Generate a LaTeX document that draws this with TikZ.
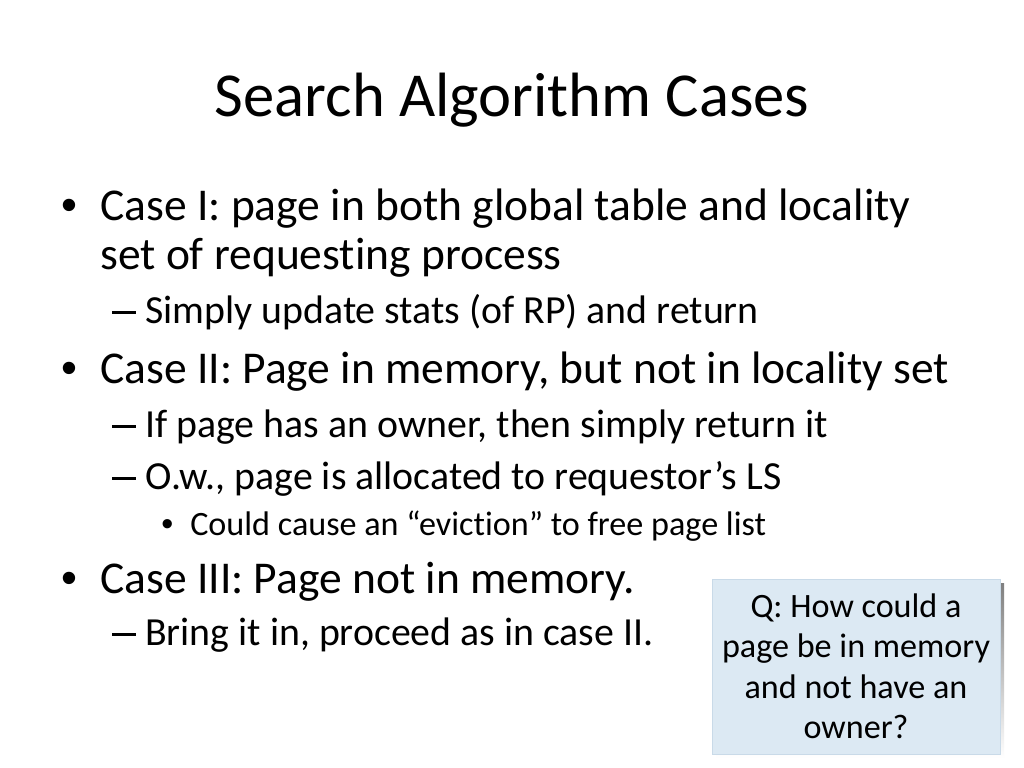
\documentclass[tikz,border=0pt]{standalone}
\usepackage{fontspec}
\setmainfont{Carlito}[Ligatures={NoCommon,NoRare,NoDiscretionary}]
\newfontfamily\arialf{Liberation Sans}
\definecolor{boxfill}{HTML}{DCE9F3}
\definecolor{boxline}{HTML}{C9DAE8}
\definecolor{shade}{HTML}{A0A0A0}
\newcommand{\mydash}{\rule[0.23em]{0.6em}{0.065em}}
\begin{document}
\begin{tikzpicture}[x=0.703125pt,y=-0.703125pt,
  title/.style={anchor=base,inner sep=0pt,font=\fontsize{44}{50}\selectfont},
  lone/.style={anchor=base west,inner sep=0pt,font=\fontsize{32}{38}\selectfont},
  ltwo/.style={anchor=base west,inner sep=0pt,font=\fontsize{28}{34}\selectfont},
  lthree/.style={anchor=base west,inner sep=0pt,font=\fontsize{24}{29}\selectfont},
  bone/.style={anchor=base west,inner sep=0pt,font=\arialf\fontsize{32}{38}\selectfont},
  bthree/.style={anchor=base west,inner sep=0pt,font=\arialf\fontsize{24}{29}\selectfont},
  qline/.style={anchor=base,inner sep=0pt,font=\fontsize{24}{29}\selectfont}]
\useasboundingbox[fill=white] (0,0) rectangle (1024,768);
\node[title] (t) at (512,117) {Search Algorithm Cases};
\node[bone] (b1) at (61,221) {•};
\node[lone] (l1) at (100,221) {Case I: page in both global table and locality};
\node[lone] (l1b) at (100,270) {set of requesting process};
\node[ltwo] (d1) at (112,323) {\mydash};
\node[ltwo] (l2) at (145,323) {Simply update stats (of RP) and return};
\node[bone] (b2) at (61,383) {•};
\node[lone] (l3) at (100,383) {Case II: Page in memory, but not in locality set};
\node[ltwo] (d2) at (112,437) {\mydash};
\node[ltwo] (l4) at (145,437) {If page has an owner, then simply return it};
\node[ltwo] (d3) at (112,489) {\mydash};
\node[ltwo] (l5) at (145,489) {O.w., page is allocated to requestor’s LS};
\node[bthree] (b3) at (161,535) {•};
\node[lthree] (l6) at (190,535) {Could cause an “eviction” to free page list};
\node[bone] (b4) at (61,593) {•};
\node[lone] (l7) at (100,593) {Case III: Page not in memory.};
\node[ltwo] (d4) at (112,645) {\mydash};
\node[ltwo] (l8) at (145,645) {Bring it in, proceed as in case II.};
% question box
\fill[shade] (716,583) rectangle (1004,758);
\draw[boxline,fill=boxfill,line width=0.5pt] (712,579) rectangle (1000,754);
\node[qline] (q1) at (856,617) {Q: How could a};
\node[qline] (q2) at (856,657) {page be in memory};
\node[qline] (q3) at (856,698) {and not have an};
\node[qline] (q4) at (856,738) {owner?};
\end{tikzpicture}
\end{document}
